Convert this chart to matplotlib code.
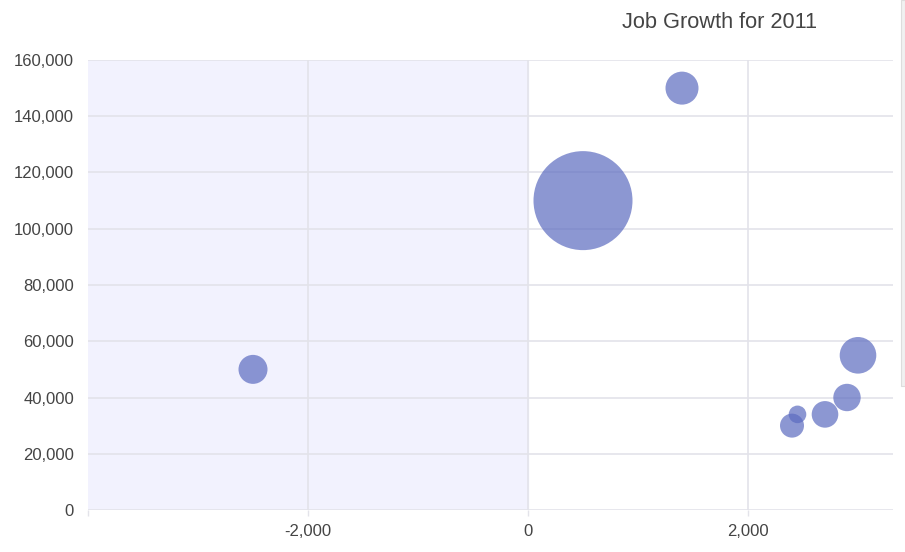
import matplotlib.pyplot as plt
from matplotlib.patches import Rectangle
from matplotlib.ticker import FuncFormatter

# bubble data
growth = [-2500, 500, 1400, 2400, 2450, 2700, 2900, 3000]
jobs = [50000, 110000, 150000, 30000, 34000, 34000, 40000, 55000]
bubble_r = [14.5, 49.5, 16.5, 12, 8.8, 13.3, 13.7, 18.3]  # radius in px

x_ticks = [-4000, -2000, 0, 2000]
x_labels = ['', '-2,000', '0', '2,000']
y_ticks = list(range(0, 160001, 20000))

plt.rcParams['font.family'] = ['Liberation Sans', 'DejaVu Sans']

W, H = 905, 552
fig = plt.figure(figsize=(W / 100, H / 100), dpi=100)
left, right, top, bottom = 88, 893, 60, 510
ax = fig.add_axes([left / W, 1 - bottom / H, (right - left) / W, (bottom - top) / H])

x_min = -4000
x_max = x_min + (right - left) / 0.11
ax.set_xlim(x_min, x_max)
ax.set_ylim(0, 160000)

# shaded negative region
ax.axvspan(x_min, 0, color='#f2f2fe', zorder=0)

grid_c = '#e3e3ea'
for yv in y_ticks:
    ax.axhline(yv, color=grid_c, lw=1.2, zorder=1)
for xv in x_ticks[1:]:
    ax.axvline(xv, color=grid_c, lw=1.2, zorder=1)

sizes = [(2 * r * 0.72) ** 2 for r in bubble_r]
ax.scatter(growth, jobs, s=sizes, color='#5c6bc0', alpha=0.7, linewidths=0,
           zorder=3, clip_on=False)

for s in ax.spines.values():
    s.set_visible(False)

ax.set_xticks(x_ticks)
ax.set_xticklabels(x_labels)
ax.set_yticks(y_ticks)
ax.yaxis.set_major_formatter(FuncFormatter(lambda v, p: f'{int(v):,}'))
ax.tick_params(axis='y', length=0, pad=10, labelsize=12, labelcolor='#444444')
ax.tick_params(axis='x', length=4, width=1, color=grid_c, pad=6, labelsize=12,
               labelcolor='#444444')

fig.text(622 / W, 1 - 22 / H, 'Job Growth for 2011', fontsize=15.7, color='#444444',
         ha='left', va='center')

# scrollbar strip at the right edge
fig.patches.append(Rectangle((901 / W, 1 - 386 / H), 4 / W, 386 / H,
                             transform=fig.transFigure, facecolor='#f1f1f1',
                             edgecolor='#dddddd', lw=0.8))

fig.savefig('out.png', dpi=100)
